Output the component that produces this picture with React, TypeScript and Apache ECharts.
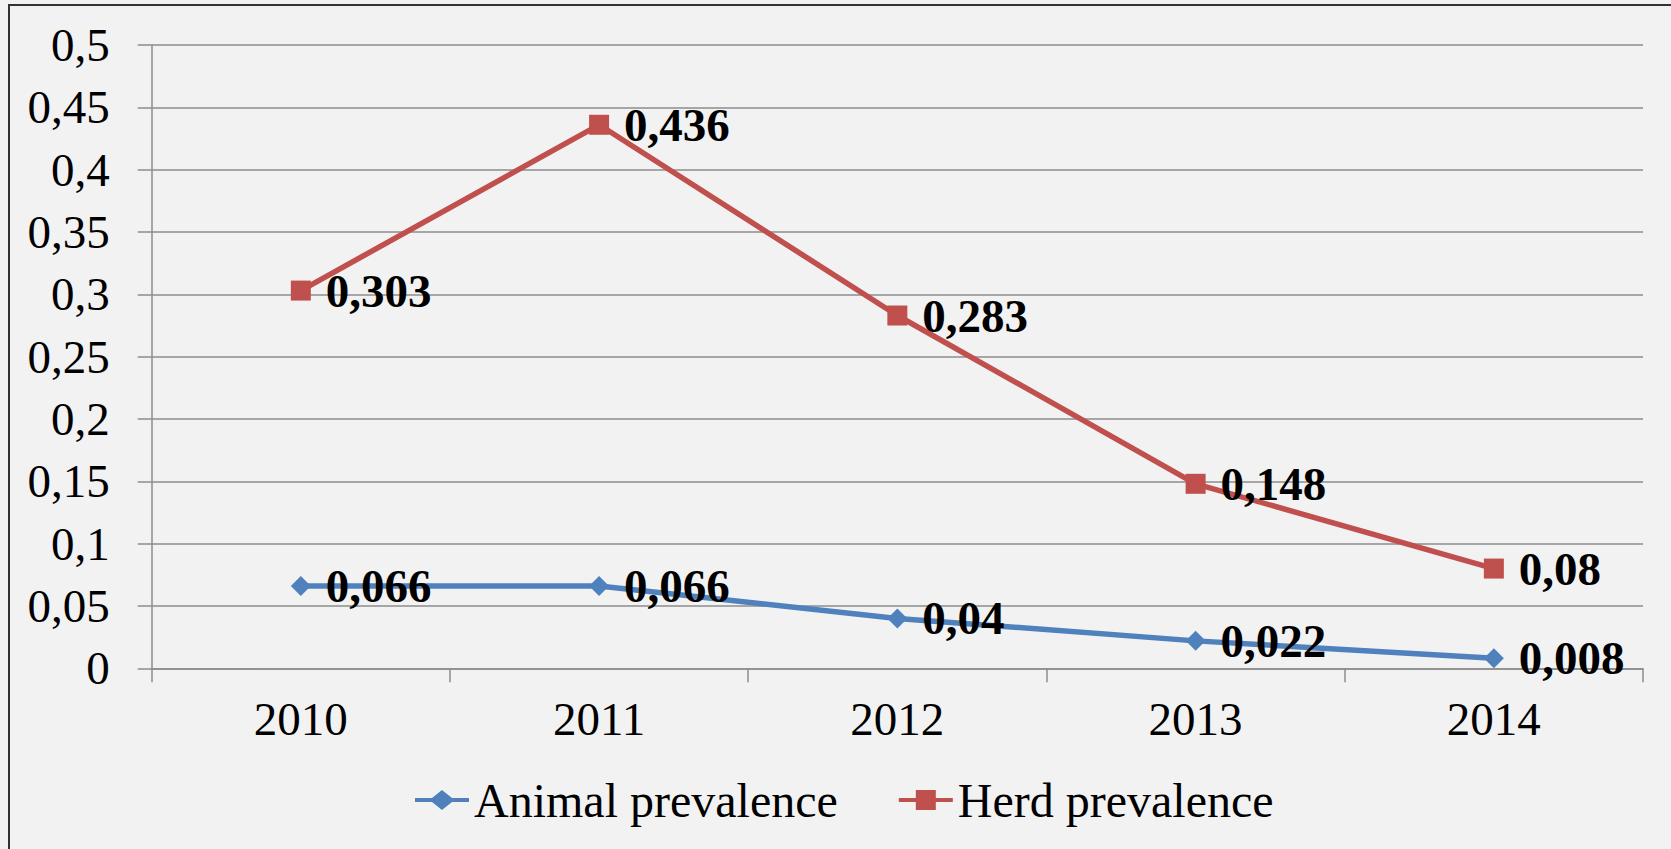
import React, { useEffect, useRef } from "react";
import * as echarts from "echarts";

const years = ["2010", "2011", "2012", "2013", "2014"];
const animalPrevalence = [0.066, 0.066, 0.04, 0.022, 0.008];
const herdPrevalence = [0.303, 0.436, 0.283, 0.148, 0.08];
const seriesNames = ["Animal prevalence", "Herd prevalence"];

const FONT = "'Liberation Serif', 'Times New Roman', serif";
const comma = (v: number) => String(+Number(v).toFixed(3)).replace(".", ",");

const diamondIcon =
  "path://M0,8 L17,8 L27,0 L37,8 L54,8 L54,12 L37,12 L27,20 L17,12 L0,12 Z";
const squareIcon =
  "path://M0,8 L17,8 L17,0 L37,0 L37,8 L54,8 L54,12 L37,12 L37,20 L17,20 L17,12 L0,12 Z";

export default function App() {
  const ref = useRef<HTMLDivElement>(null);
  useEffect(() => {
    if (!ref.current) return;
    const chart = echarts.init(ref.current, undefined, { renderer: "svg" });
    const labelStyle = {
      show: true,
      position: "right" as const,
      distance: 15,
      fontFamily: FONT,
      fontSize: 47,
      fontWeight: "bold" as const,
      color: "#000",
      formatter: (p: any) => comma(p.value),
    };
    chart.setOption({
      animation: false,
      backgroundColor: "#f2f2f2",
      textStyle: { fontFamily: FONT },
      graphic: [
        {
          type: "rect",
          shape: { x: 9, y: 5, width: 3000, height: 3000 },
          style: { fill: "none", stroke: "#333", lineWidth: 2 },
          silent: true,
        },
      ],
      grid: { left: 151.7, right: 28, top: 45, bottom: 180.7, containLabel: false },
      legend: {
        left: 410,
        top: 771,
        itemWidth: 54,
        itemHeight: 20,
        itemGap: 61,
        textStyle: { fontFamily: FONT, fontSize: 48, color: "#000" },
        data: [
          { name: seriesNames[0], icon: diamondIcon },
          { name: seriesNames[1], icon: squareIcon },
        ],
      },
      xAxis: {
        type: "category",
        data: years,
        boundaryGap: true,
        axisLine: { show: true, lineStyle: { color: "#8c8c8c", width: 1.5 } },
        axisTick: { show: true, length: 14, alignWithLabel: false, lineStyle: { color: "#8c8c8c", width: 1.5 } },
        axisLabel: { fontFamily: FONT, fontSize: 47, color: "#000", margin: 27 },
      },
      yAxis: {
        type: "value",
        min: 0,
        max: 0.5,
        interval: 0.05,
        axisLine: { show: true, lineStyle: { color: "#8c8c8c", width: 1.5 } },
        axisTick: { show: true, length: 14, lineStyle: { color: "#8c8c8c", width: 1.5 } },
        splitLine: { show: true, lineStyle: { color: "#8c8c8c", width: 1.5 } },
        axisLabel: {
          fontFamily: FONT,
          fontSize: 47,
          color: "#000",
          margin: 42,
          formatter: (v: number) => comma(v),
        },
      },
      series: [
        {
          name: seriesNames[0],
          type: "line",
          data: animalPrevalence,
          symbol: "diamond",
          symbolSize: 20,
          itemStyle: { color: "#4f81bd" },
          lineStyle: { color: "#4f81bd", width: 5.5 },
          label: labelStyle,
        },
        {
          name: seriesNames[1],
          type: "line",
          data: herdPrevalence,
          symbol: "rect",
          symbolSize: 20,
          itemStyle: { color: "#c0504d" },
          lineStyle: { color: "#c0504d", width: 5.5 },
          label: labelStyle,
        },
      ],
    });
    return () => chart.dispose();
  }, []);
  return (
    <div style={{ position: "fixed", left: 0, top: 0, width: 1671, height: 849, background: "#f2f2f2" }}>
      <div ref={ref} style={{ width: 1671, height: 849 }} />
    </div>
  );
}
